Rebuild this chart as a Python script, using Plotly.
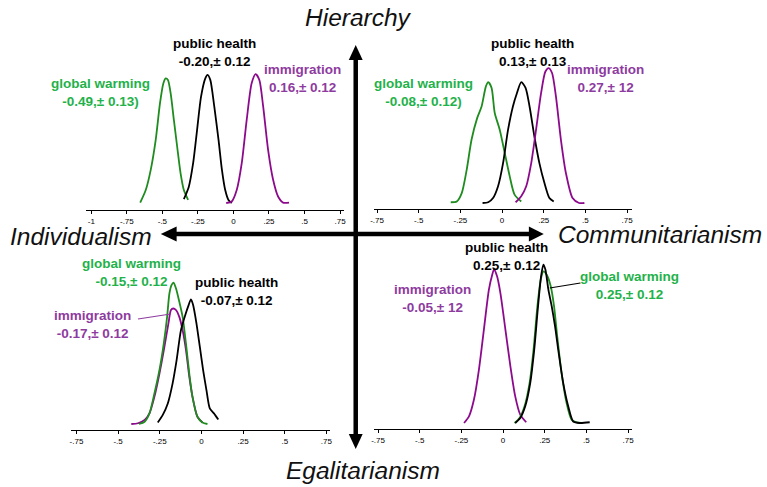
import plotly.graph_objects as go

W, H = 767, 487

# ---------------- data ----------------
# Top-left quadrant (Hierarchy / Individualism)
tl_gw_x = [-0.656, -0.617, -0.582, -0.547, -0.517, -0.493, -0.477, -0.461, -0.442, -0.419, -0.396, -0.372, -0.349, -0.319]
tl_gw_y = [0.01, 0.34, 0.87, 1.66, 2.62, 3.15, 3.28, 3.24, 2.89, 2.18, 1.48, 0.78, 0.34, 0.08]
tl_ph_x = [-0.349, -0.314, -0.284, -0.256, -0.228, -0.198, -0.182, -0.163, -0.135, -0.105, -0.081, -0.058, -0.035, -0.012]
tl_ph_y = [0.10, 0.43, 1.04, 1.92, 2.80, 3.28, 3.37, 3.24, 2.54, 1.66, 0.87, 0.34, 0.08, 0.0]
tl_im_x = [-0.051, -0.012, 0.023, 0.058, 0.093, 0.128, 0.156, 0.182, 0.209, 0.244, 0.279, 0.314, 0.349, 0.391]
tl_im_y = [0.0, 0.04, 0.34, 1.04, 2.18, 3.15, 3.39, 3.24, 2.54, 1.39, 0.61, 0.17, 0.01, 0.01]

# Top-right quadrant (Hierarchy / Communitarianism)
tr_gw_x = [-0.308, -0.272, -0.242, -0.212, -0.183, -0.149, -0.123, -0.097, -0.083, -0.063, -0.044, -0.014, 0.016, 0.046, 0.075, 0.115]
tr_gw_y = [0.02, 0.04, 0.26, 0.88, 1.67, 2.24, 2.54, 3.07, 3.18, 3.03, 2.37, 1.93, 1.32, 0.70, 0.22, 0.04]
tr_ph_x = [-0.117, -0.083, -0.054, -0.024, 0.006, 0.036, 0.065, 0.089, 0.115, 0.141, 0.165, 0.194, 0.224, 0.254, 0.284, 0.310]
tr_ph_y = [0.0, 0.02, 0.13, 0.44, 1.05, 1.93, 2.54, 2.89, 3.18, 3.03, 2.54, 1.75, 1.05, 0.53, 0.13, 0.04]
tr_im_x = [0.081, 0.115, 0.145, 0.175, 0.204, 0.234, 0.260, 0.280, 0.300, 0.323, 0.353, 0.383, 0.423, 0.462, 0.494]
tr_im_y = [0.02, 0.18, 0.44, 1.05, 1.93, 2.89, 3.46, 3.55, 3.42, 2.81, 1.67, 0.79, 0.13, 0.0, 0.0]

# Bottom-left quadrant (Egalitarianism / Individualism)
bl_gw_x = [-0.375, -0.341, -0.312, -0.282, -0.252, -0.226, -0.206, -0.192, -0.179, -0.167, -0.153, -0.133, -0.113, -0.093, -0.073, -0.054, -0.024, 0.006, 0.036]
bl_gw_y = [0.0, 0.06, 0.28, 0.81, 1.42, 2.12, 2.82, 3.44, 3.66, 3.72, 3.57, 3.22, 2.82, 2.12, 1.33, 0.72, 0.19, 0.04, 0.0]
bl_im_x = [-0.421, -0.381, -0.341, -0.312, -0.282, -0.252, -0.222, -0.198, -0.183, -0.169, -0.153, -0.133, -0.113, -0.093, -0.073, -0.054, -0.024, 0.006]
bl_im_y = [0.0, 0.02, 0.11, 0.28, 0.72, 1.33, 2.04, 2.65, 3.0, 3.04, 3.0, 2.82, 2.47, 1.95, 1.25, 0.72, 0.19, 0.04]
bl_ph_x = [-0.262, -0.232, -0.202, -0.173, -0.149, -0.123, -0.097, -0.077, -0.063, -0.050, -0.030, -0.010, 0.010, 0.030, 0.050, 0.075, 0.101]
bl_ph_y = [0.04, 0.24, 0.54, 1.07, 1.68, 2.47, 2.87, 3.13, 3.28, 3.13, 2.65, 2.04, 1.42, 0.89, 0.41, 0.28, 0.12]

# Bottom-right quadrant (Egalitarianism / Communitarianism)
br_im_x = [-0.234, -0.204, -0.175, -0.145, -0.115, -0.085, -0.065, -0.054, -0.036, -0.016, 0.014, 0.044, 0.073, 0.103, 0.139]
br_im_y = [0.0, 0.18, 0.61, 1.40, 2.46, 3.51, 3.90, 4.04, 3.86, 3.42, 2.46, 1.49, 0.70, 0.22, 0.02]
br_gw_x = [0.069, 0.099, 0.129, 0.159, 0.183, 0.206, 0.226, 0.242, 0.262, 0.286, 0.306, 0.325, 0.351, 0.381, 0.411, 0.440, 0.470]
br_gw_y = [0.0, 0.13, 0.44, 1.05, 1.93, 3.07, 3.77, 3.99, 3.90, 3.60, 3.07, 2.28, 1.32, 0.53, 0.09, 0.02, 0.0]
br_ph_x = [0.073, 0.103, 0.133, 0.163, 0.187, 0.208, 0.228, 0.242, 0.254, 0.272, 0.292, 0.312, 0.331, 0.361, 0.391, 0.421, 0.460, 0.520]
br_ph_y = [0.0, 0.13, 0.44, 1.05, 1.93, 2.98, 3.86, 4.17, 4.04, 3.51, 3.07, 2.54, 1.93, 1.05, 0.44, 0.04, 0.0, 0.02]

# tick labels
tl_tickvals = [-1, -0.75, -0.5, -0.25, 0, 0.25, 0.5, 0.75]
tl_ticktext = ["-1", "-.75", "-.5", "-.25", "0", ".25", ".5", ".75"]
tickvals = [-0.75, -0.5, -0.25, 0, 0.25, 0.5, 0.75]
ticktext = ["-.75", "-.5", "-.25", "0", ".25", ".5", ".75"]

# label texts
tl_labels = ["public health<br>-0.20,± 0.12", "global warming<br>-0.49,± 0.13)", "immigration<br>0.16,± 0.12"]
tr_labels = ["public health<br>0.13,± 0.13", "global warming<br>-0.08,± 0.12)", "immigration<br>0.27,± 12"]
bl_labels = ["global warming<br>-0.15,± 0.12", "public health<br>-0.07,± 0.12", "immigration<br>-0.17,± 0.12"]
br_labels = ["public health<br>0.25,± 0.12", "immigration<br>-0.05,± 12", "global warming<br>0.25,± 0.12"]
directions = ["Hierarchy", "Egalitarianism", "Individualism", "Communitarianism"]

# ---------------- styling ----------------
GREEN = "#1e8c1e"
PURPLE = "#8d0a8d"
BLACK = "#000000"
GREEN_T = "#1fb24a"
PURPLE_T = "#8e3ba0"
FONT = "Liberation Sans, Arial, sans-serif"


def px(x):
    return x / W


def py(y):
    return 1 - y / H


K = 38.0  # pixels per density unit
fig = go.Figure()

# quadrant geometry: (axis name, x pixel span, x range, axis-line y px, baseline y px)
quads = {
    "x": dict(xs=(83, 343), xr=(-1.035, 0.78), ay=210, by=203),
    "x2": dict(xs=(373, 633), xr=(-0.768, 0.780), ay=209, by=203),
    "x3": dict(xs=(68, 329), xr=(-0.780, 0.774), ay=430, by=424),
    "x4": dict(xs=(373, 633), xr=(-0.774, 0.774), ay=429, by=423),
}

series = [
    ("x", "y", tl_gw_x, tl_gw_y, GREEN),
    ("x", "y", tl_ph_x, tl_ph_y, BLACK),
    ("x", "y", tl_im_x, tl_im_y, PURPLE),
    ("x2", "y2", tr_gw_x, tr_gw_y, GREEN),
    ("x2", "y2", tr_ph_x, tr_ph_y, BLACK),
    ("x2", "y2", tr_im_x, tr_im_y, PURPLE),
    ("x3", "y3", bl_im_x, bl_im_y, PURPLE),
    ("x3", "y3", bl_gw_x, bl_gw_y, GREEN),
    ("x3", "y3", bl_ph_x, bl_ph_y, BLACK),
    ("x4", "y4", br_im_x, br_im_y, PURPLE),
    ("x4", "y4", br_gw_x, br_gw_y, GREEN),
    ("x4", "y4", br_ph_x, br_ph_y, BLACK),
]
for xa, ya, xs, ys, col in series:
    fig.add_trace(go.Scatter(x=xs, y=ys, xaxis=xa, yaxis=ya, mode="lines",
                             line=dict(color=col, width=1.8, shape="spline", smoothing=0.7),
                             hoverinfo="skip", showlegend=False))

layout = {}
for i, (name, q) in enumerate(quads.items()):
    suffix = "" if name == "x" else name[1:]
    bottom = -(q["ay"] - q["by"]) / K
    top = bottom + 175 / K
    tv, tt = (tl_tickvals, tl_ticktext) if name == "x" else (tickvals, ticktext)
    layout["xaxis" + suffix] = dict(
        domain=[px(q["xs"][0]), px(q["xs"][1])], range=list(q["xr"]),
        anchor="y" + suffix, showline=True, linecolor="black", linewidth=1.3,
        ticks="outside", ticklen=3, tickwidth=1, tickcolor="black",
        tickvals=tv, ticktext=tt, tickfont=dict(size=8, color="black", family=FONT),
        showgrid=False, zeroline=False, fixedrange=True)
    layout["yaxis" + suffix] = dict(
        domain=[py(q["ay"]), py(q["ay"] - 175)], range=[bottom, top],
        anchor="x" + suffix, visible=False, showgrid=False, zeroline=False, fixedrange=True)
fig.update_layout(**layout)

# ---------------- annotations ----------------
ann = []


def lab(text, x, y, color, size=13.5):
    ann.append(dict(text="<b>%s</b>" % text, x=px(x), y=py(y), xref="paper", yref="paper",
                    showarrow=False, align="center", xanchor="center", yanchor="middle",
                    font=dict(family=FONT, size=size, color=color)))


lab(tl_labels[0], 212, 52, BLACK)
lab(tl_labels[1], 97, 92, GREEN_T)
lab(tl_labels[2], 301, 78, PURPLE_T)
lab(tr_labels[0], 533, 52, BLACK)
lab(tr_labels[1], 423, 92, GREEN_T)
lab(tr_labels[2], 606, 78, PURPLE_T)
lab(bl_labels[0], 129, 272, GREEN_T)
lab(bl_labels[1], 234, 291, BLACK)
lab(bl_labels[2], 89, 324, PURPLE_T)
lab(br_labels[0], 506, 256, BLACK)
lab(br_labels[1], 432, 298, PURPLE_T)
lab(br_labels[2], 630, 285, GREEN_T)

dirpos = [(357, 18), (362, 470), (78, 236), (661, 234)]
for t, (x, y) in zip(directions, dirpos):
    ann.append(dict(text="<i>%s</i>" % t, x=px(x), y=py(y), xref="paper", yref="paper",
                    showarrow=False, xanchor="center", yanchor="middle",
                    font=dict(family=FONT, size=24.5, color="#111111")))
fig.update_layout(annotations=ann)

# ---------------- arrows & connector lines ----------------
shapes = []


def seg(x0, y0, x1, y1, col, w):
    shapes.append(dict(type="line", xref="paper", yref="paper", x0=px(x0), y0=py(y0),
                       x1=px(x1), y1=py(y1), line=dict(color=col, width=w)))


def tri(pts):
    d = "M " + " L ".join("%f,%f" % (px(a), py(b)) for a, b in pts) + " Z"
    shapes.append(dict(type="path", xref="paper", yref="paper", path=d,
                       fillcolor="black", line=dict(color="black", width=0)))


seg(172, 234, 531, 234, "black", 4.5)
tri([(158, 234), (174, 226.5), (174, 241.5)])
tri([(544, 234), (529, 226.5), (529, 241.5)])
seg(354.5, 58, 354.5, 436, "black", 4.5)
tri([(354.5, 45), (347.5, 60), (361.5, 60)])
tri([(354.5, 449), (347.5, 434), (361.5, 434)])
seg(135, 319, 168, 314, PURPLE_T, 1.2)
seg(550, 288, 581, 283, BLACK, 1.2)
fig.update_layout(shapes=shapes)

fig.update_layout(width=W, height=H, margin=dict(l=0, r=0, t=0, b=0),
                  paper_bgcolor="white", plot_bgcolor="rgba(0,0,0,0)",
                  font=dict(family=FONT), showlegend=False)

fig.write_html("out.html", config={"displayModeBar": False},
               post_script="document.body.style.margin='0';document.body.style.overflow='hidden';")
